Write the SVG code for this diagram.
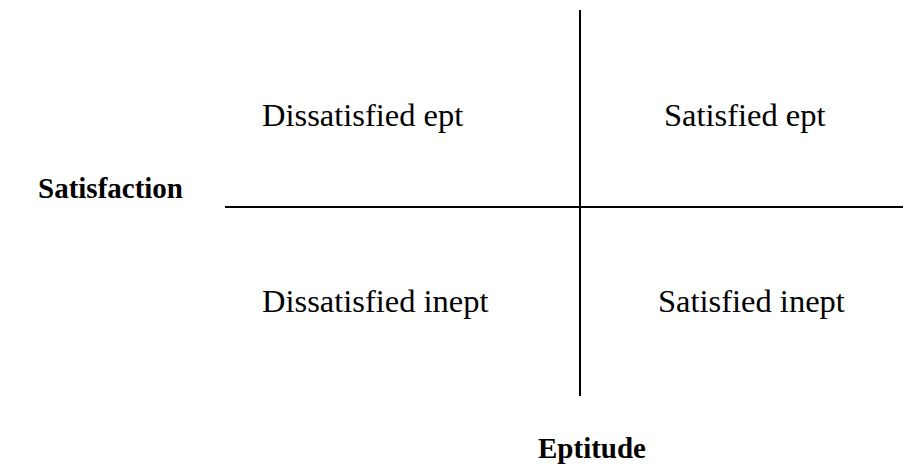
<svg xmlns="http://www.w3.org/2000/svg" width="903" height="470" viewBox="0 0 903 470">
<style>
.t{font-family:"Liberation Serif","Times New Roman",serif;font-size:32.5px;fill:#000}
.b{font-weight:bold;font-size:29px}
.ax{stroke:#000;stroke-width:2;fill:none}
</style>
<rect width="903" height="470" fill="#fff"/>
<g id="connectors">
<line class="ax" x1="580" y1="10" x2="580" y2="396"/>
<line class="ax" x1="225" y1="207" x2="903" y2="207"/>
</g>
<g id="q-dissatisfied-ept"><text class="t" x="262" y="126">Dissatisfied ept</text></g>
<g id="q-satisfied-ept"><text class="t" x="664" y="126">Satisfied ept</text></g>
<g id="q-dissatisfied-inept"><text class="t" x="262" y="312">Dissatisfied inept</text></g>
<g id="q-satisfied-inept"><text class="t" x="658" y="312">Satisfied inept</text></g>
<g id="label-satisfaction"><text class="t b" x="38" y="198">Satisfaction</text></g>
<g id="label-eptitude"><text class="t b" x="538" y="458">Eptitude</text></g>
</svg>
